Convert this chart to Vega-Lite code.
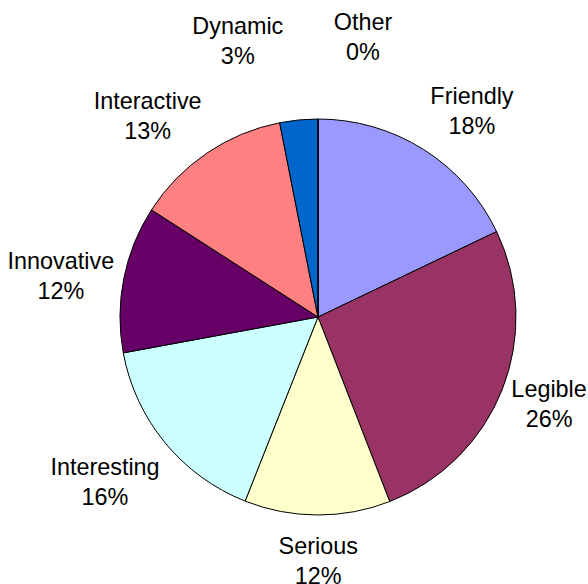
{
  "$schema": "https://vega.github.io/schema/vega-lite/v6.json",
  "width": 576,
  "height": 568,
  "autosize": "none",
  "padding": {"left": 30, "top": 33, "right": 0, "bottom": 0},
  "background": "white",
  "config": {"view": {"stroke": null}, "text": {"font": "Liberation Sans", "fontSize": 23.4, "lineHeight": 30, "lineBreak": "\n", "color": "black"}},
  "data": {
    "values": [
      {"idx": 1, "category": "Friendly", "value": 17.9, "label": "Friendly\n18%"},
      {"idx": 2, "category": "Legible", "value": 26.2, "label": "Legible\n26%"},
      {"idx": 3, "category": "Serious", "value": 11.9, "label": "Serious\n12%"},
      {"idx": 4, "category": "Interesting", "value": 16.1, "label": "Interesting\n16%"},
      {"idx": 5, "category": "Innovative", "value": 12.0, "label": "Innovative\n12%"},
      {"idx": 6, "category": "Interactive", "value": 12.8, "label": "Interactive\n13%"},
      {"idx": 7, "category": "Dynamic", "value": 3.1, "label": "Dynamic\n3%"},
      {"idx": 8, "category": "Other", "value": 0, "label": "Other\n0%"}
    ]
  },
  "encoding": {
    "theta": {"field": "value", "type": "quantitative", "stack": true},
    "order": {"field": "idx", "type": "quantitative", "sort": "ascending"}
  },
  "layer": [
    {
      "mark": {"type": "arc", "outerRadius": 198, "stroke": "black", "strokeWidth": 1},
      "encoding": {
        "color": {
          "field": "category",
          "type": "nominal",
          "scale": {
            "domain": ["Friendly", "Legible", "Serious", "Interesting", "Innovative", "Interactive", "Dynamic", "Other"],
            "range": ["#9999FF", "#993366", "#FFFFCC", "#CCFFFF", "#660066", "#FF8080", "#0066CC", "#C0C0C0"]
          },
          "legend": null
        }
      }
    },
    {
      "mark": {"type": "text", "radius": 255, "dx": 18, "dy": -4},
      "encoding": {"text": {"field": "label"}, "opacity": {"condition": {"test": "datum.idx == 1", "value": 1}, "value": 0}}
    },
    {
      "mark": {"type": "text", "radius": 255, "dx": -6, "dy": -21},
      "encoding": {"text": {"field": "label"}, "opacity": {"condition": {"test": "datum.idx == 2", "value": 1}, "value": 0}}
    },
    {
      "mark": {"type": "text", "radius": 255, "dx": 1, "dy": -25},
      "encoding": {"text": {"field": "label"}, "opacity": {"condition": {"test": "datum.idx == 3", "value": 1}, "value": 0}}
    },
    {
      "mark": {"type": "text", "radius": 255, "dx": -16, "dy": -11},
      "encoding": {"text": {"field": "label"}, "opacity": {"condition": {"test": "datum.idx == 4", "value": 1}, "value": 0}}
    },
    {
      "mark": {"type": "text", "radius": 255, "dx": -7, "dy": -6},
      "encoding": {"text": {"field": "label"}, "opacity": {"condition": {"test": "datum.idx == 5", "value": 1}, "value": 0}}
    },
    {
      "mark": {"type": "text", "radius": 255, "dx": -27, "dy": -4},
      "encoding": {"text": {"field": "label"}, "opacity": {"condition": {"test": "datum.idx == 6", "value": 1}, "value": 0}}
    },
    {
      "mark": {"type": "text", "radius": 280, "dx": -53, "dy": -11},
      "encoding": {"text": {"field": "label"}, "opacity": {"condition": {"test": "datum.idx == 7", "value": 1}, "value": 0}}
    },
    {
      "mark": {"type": "text", "radius": 280, "dx": 45, "dy": -14},
      "encoding": {"text": {"field": "label"}, "opacity": {"condition": {"test": "datum.idx == 8", "value": 1}, "value": 0}}
    }
  ]
}
